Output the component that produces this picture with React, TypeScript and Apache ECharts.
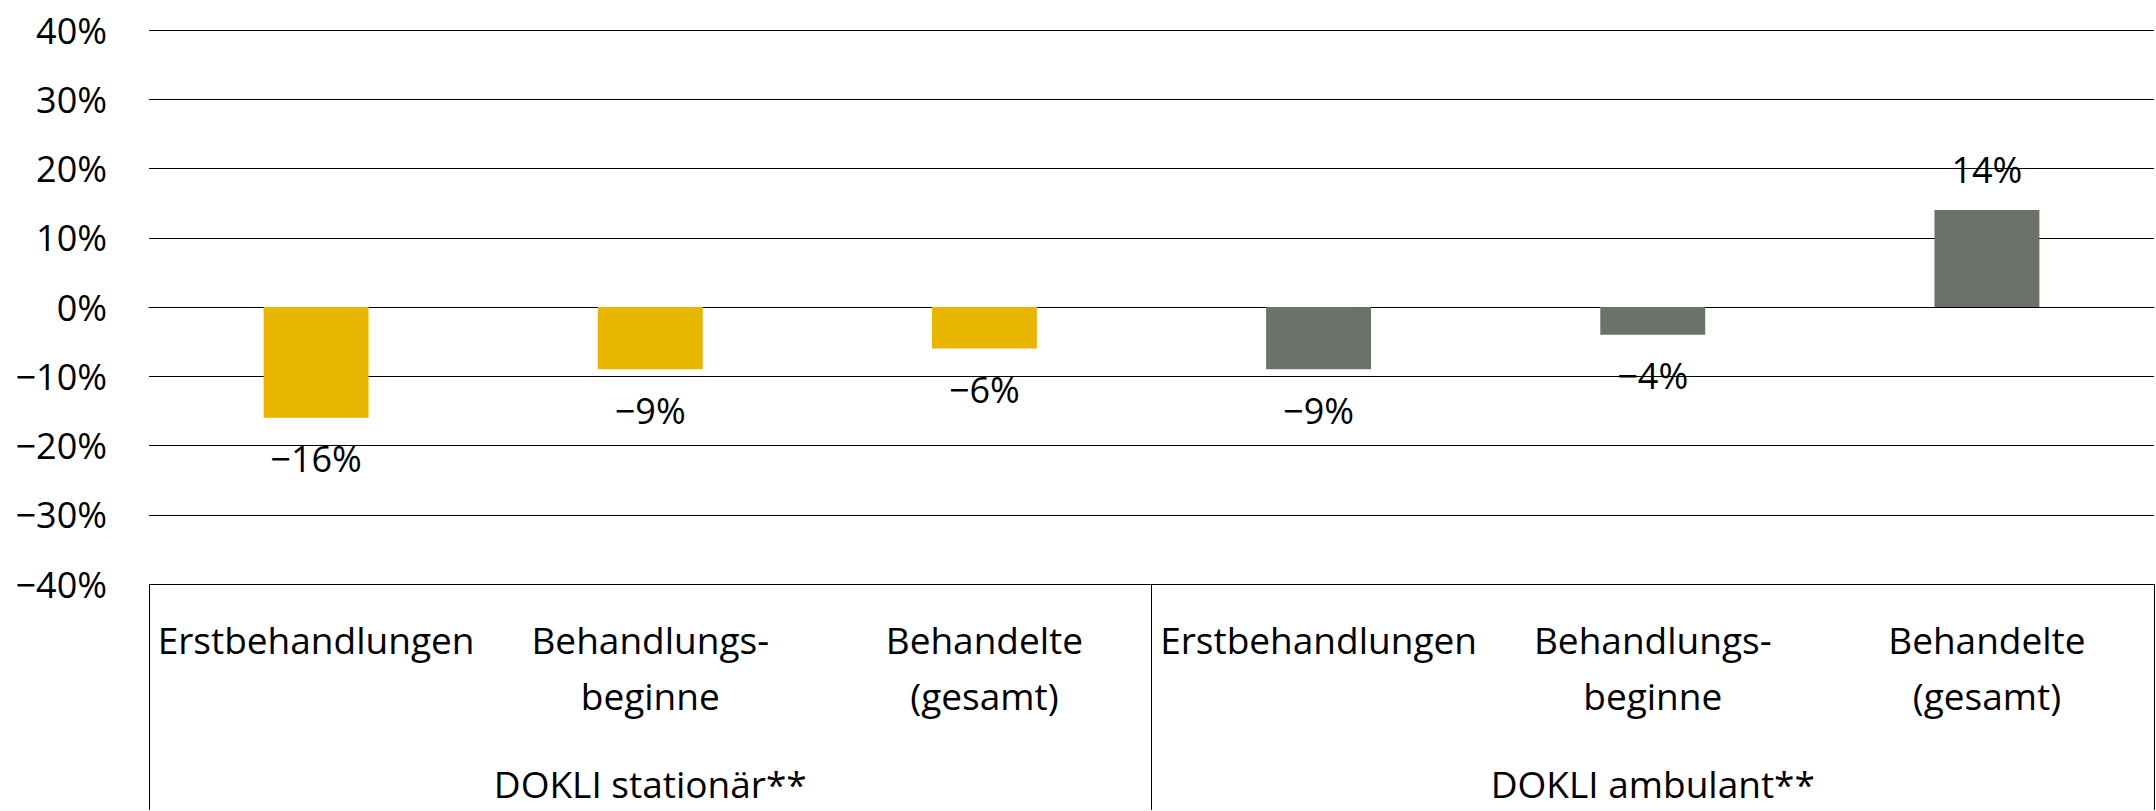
import React, { useEffect, useRef } from "react";
import * as echarts from "echarts";

const categories = [
  "Erstbehandlungen",
  "Behandlungs-\nbeginne",
  "Behandelte\n(gesamt)",
  "Erstbehandlungen",
  "Behandlungs-\nbeginne",
  "Behandelte\n(gesamt)",
];
const values = [-16, -9, -6, -9, -4, 14];
const groups = ["DOKLI stationär**", "DOKLI ambulant**"];
const groupOfCategory = [0, 0, 0, 1, 1, 1];

const Y_MIN = -40;
const Y_MAX = 40;
const Y_STEP = 10;

const GROUP_COLORS = ["#E8B500", "#6A7269"];
const FONT = "'Open Sans', 'Noto Sans', sans-serif";

const fmtPct = (v: number) => (v < 0 ? "\u2212" + Math.abs(v) : String(v)) + "%";

export default function App() {
  const ref = useRef<HTMLDivElement>(null);

  useEffect(() => {
    if (!ref.current) return;
    const chart = echarts.init(ref.current, undefined, { renderer: "svg" });
    chart.setOption({
      animation: false,
      backgroundColor: "#ffffff",
      textStyle: { fontFamily: FONT },
      grid: { left: 149, right: 2, top: 30, bottom: 226, containLabel: false },
      xAxis: [
        {
          type: "category",
          data: categories,
          position: "bottom",
          axisLine: { show: true, lineStyle: { color: "#000", width: 1 } },
          axisTick: { show: false },
          splitLine: { show: false },
          axisLabel: {
            interval: 0,
            hideOverlap: false,
            color: "#000",
            fontFamily: FONT,
            fontSize: 37,
            lineHeight: 56,
            margin: 27,
            verticalAlign: "top",
            align: "center",
          },
        },
        {
          type: "category",
          data: groups,
          position: "bottom",
          offset: 0,
          axisLine: { show: false },
          axisTick: {
            show: true,
            interval: 0,
            length: 226,
            lineStyle: { color: "#000", width: 1 },
          },
          splitLine: { show: false },
          axisLabel: {
            interval: 0,
            color: "#000",
            fontFamily: FONT,
            fontSize: 37,
            lineHeight: 56,
            margin: 171,
            verticalAlign: "top",
          },
        },
      ],
      yAxis: {
        type: "value",
        min: Y_MIN,
        max: Y_MAX,
        interval: Y_STEP,
        axisLine: { show: false },
        axisTick: { show: false },
        splitLine: { show: true, lineStyle: { color: "#000", width: 1 } },
        axisLabel: {
          color: "#000",
          fontFamily: FONT,
          fontSize: 36,
          margin: 42,
          formatter: (v: number) => fmtPct(v),
        },
      },
      series: [
        {
          type: "bar",
          xAxisIndex: 0,
          barWidth: "31.4%",
          data: values.map((v, i) => ({
            value: v,
            itemStyle: { color: GROUP_COLORS[groupOfCategory[i]] },
            label: { position: v < 0 ? "bottom" : "top" },
          })),
          label: {
            show: true,
            color: "#000",
            fontFamily: FONT,
            fontSize: 36,
            lineHeight: 36,
            distance: 23,
            formatter: (p: any) => fmtPct(p.value),
          },
        },
      ],
    });
    return () => chart.dispose();
  }, []);

  return (
    <div
      ref={ref}
      style={{ position: "absolute", left: 0, top: 0, width: 2156, height: 811 }}
    />
  );
}
